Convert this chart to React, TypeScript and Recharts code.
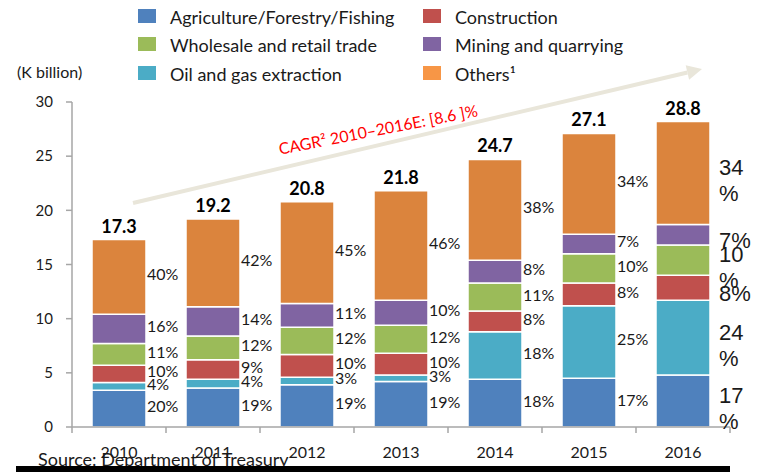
import React from 'react';
import { BarChart, Bar, XAxis, YAxis, LabelList } from 'recharts';

// years + bar totals (labels shown above the stacks)
const years = ['2010', '2011', '2012', '2013', '2014', '2015', '2016'];
const totals = ['17.3', '19.2', '20.8', '21.8', '24.7', '27.1', '28.8'];

// segment values in K billion
const agriculture = [3.4, 3.6, 3.9, 4.2, 4.4, 4.5, 4.8];
const oilGas = [0.7, 0.8, 0.7, 0.6, 4.4, 6.7, 6.9];
const construction = [1.6, 1.8, 2.1, 2.0, 1.9, 2.1, 2.3];
const wholesale = [2.0, 2.2, 2.5, 2.6, 2.6, 2.7, 2.8];
const mining = [2.7, 2.7, 2.2, 2.3, 2.1, 1.8, 1.9];
const others = [6.9, 8.1, 9.4, 10.1, 9.3, 9.3, 9.5];

// share labels printed to the right of each segment
const agriculturePct = ['20%', '19%', '19%', '19%', '18%', '17%', '17%'];
const oilGasPct = ['4%', '4%', '3%', '3%', '18%', '25%', '24%'];
const constructionPct = ['10%', '9%', '10%', '10%', '8%', '8%', '8%'];
const wholesalePct = ['11%', '12%', '12%', '12%', '11%', '10%', '10%'];
const miningPct = ['16%', '14%', '11%', '10%', '8%', '7%', '7%'];
const othersPct = ['40%', '42%', '45%', '46%', '38%', '34%', '34%'];

const yTicks = [0, 5, 10, 15, 20, 25, 30];

const FONT = 'Lato, "Open Sans", sans-serif';
const TEXT = '#1a1a1a';

const series = [
  { key: 'agriculture', name: 'Agriculture/Forestry/Fishing', fill: '#4F81BD', legend: '#4F81BD', pct: agriculturePct },
  { key: 'oilGas', name: 'Oil and gas extraction', fill: '#4BACC6', legend: '#4BACC6', pct: oilGasPct },
  { key: 'construction', name: 'Construction', fill: '#C0504D', legend: '#C0504D', pct: constructionPct },
  { key: 'wholesale', name: 'Wholesale and retail trade', fill: '#9BBB59', legend: '#9BBB59', pct: wholesalePct },
  { key: 'mining', name: 'Mining and quarrying', fill: '#8064A2', legend: '#8064A2', pct: miningPct },
  { key: 'others', name: 'Others\u00B9', fill: '#DB843D', legend: '#F79646', pct: othersPct },
];

const data = years.map((year, i) => ({
  year,
  agriculture: agriculture[i],
  oilGas: oilGas[i],
  construction: construction[i],
  wholesale: wholesale[i],
  mining: mining[i],
  others: others[i],
}));

// legend layout: two columns, three rows
const legendOrder = [
  ['agriculture', 'construction'],
  ['wholesale', 'mining'],
  ['oilGas', 'others'],
];

const makePctLabel = (pcts: string[]) => (props: any) => {
  const { x, y, width, height, index } = props;
  const text = pcts[index];
  const cy = Number(y) + Number(height) / 2;
  if (index === years.length - 1) {
    // last column uses a bigger font and wraps when it does not fit
    const lx = Number(x) + Number(width) + 9;
    const style = { fontFamily: '"Liberation Sans", Arial, sans-serif', fontSize: 22, fill: TEXT };
    if (text.length > 2) {
      return (
        <text x={lx} y={cy - 6} dominantBaseline="central" {...style}>
          <tspan x={lx}>{text.slice(0, -1)}</tspan>
          <tspan x={lx} dy={26}>%</tspan>
        </text>
      );
    }
    return (
      <text x={lx} y={cy + 6} dominantBaseline="central" {...style}>
        {text}
      </text>
    );
  }
  return (
    <text x={Number(x) + Number(width) + 1} y={cy - 3} dominantBaseline="central"
      fontFamily={FONT} fontSize={16} fill={TEXT}>
      {text}
    </text>
  );
};

const TotalLabel = (props: any) => {
  const { x, y, width, index } = props;
  return (
    <text x={Number(x) + Number(width) / 2} y={Number(y) - 14} textAnchor="middle" dominantBaseline="central"
      fontFamily={FONT} fontSize={18} fontWeight={700} fill="#000">
      {totals[index]}
    </text>
  );
};

const BAND = 94;

const YearTick = (props: any) => {
  const { x, y, payload, index } = props;
  const left = x - BAND / 2;
  return (
    <g>
      <line x1={left} x2={left} y1={y} y2={y + 6} stroke="#A6A6A6" strokeWidth={1.5} />
      {index === years.length - 1 && (
        <line x1={x + BAND / 2} x2={x + BAND / 2} y1={y} y2={y + 6} stroke="#A6A6A6" strokeWidth={1.5} />
      )}
      <text x={x} y={y + 24} textAnchor="middle" dominantBaseline="central"
        fontFamily={FONT} fontSize={16} fill={TEXT}>
        {payload.value}
      </text>
    </g>
  );
};

// growth arrow overlay
const arrowStart = { x: 133, y: 203 };
const arrowTip = { x: 702, y: 69 };

const Arrow = () => {
  const dx = arrowTip.x - arrowStart.x;
  const dy = arrowTip.y - arrowStart.y;
  const len = Math.sqrt(dx * dx + dy * dy);
  const ux = dx / len;
  const uy = dy / len;
  const bx = arrowTip.x - ux * 15;
  const by = arrowTip.y - uy * 15;
  const p1 = `${bx - uy * 7.5},${by + ux * 7.5}`;
  const p2 = `${bx + uy * 7.5},${by - ux * 7.5}`;
  return (
    <svg width={758} height={472} style={{ position: 'absolute', left: 0, top: 0, pointerEvents: 'none' }}>
      <line x1={arrowStart.x} y1={arrowStart.y} x2={bx} y2={by} stroke="#E9E6DA" strokeWidth={4} />
      <polygon points={`${arrowTip.x},${arrowTip.y} ${p1} ${p2}`} fill="#E9E6DA" />
      <text x={378} y={129} textAnchor="middle" dominantBaseline="central" transform="rotate(-11 378 129)"
        fontFamily={FONT} fontSize={16} fill="#FF0000">
        CAGR² 2010–2016E: [8.6 ]%
      </text>
    </svg>
  );
};

const App: React.FC = () => {
  const byKey: Record<string, typeof series[number]> = {};
  series.forEach(s => { byKey[s.key] = s; });

  return (
    <div style={{ position: 'absolute', left: 0, top: 0, width: 758, height: 472, background: '#fff', overflow: 'hidden' }}>
      {/* legend */}
      {legendOrder.map((row, r) => (
        row.map((key, c) => {
          const s = byKey[key];
          const top = [9, 37, 66][r];
          return (
            <div key={key} style={{ position: 'absolute', left: c === 0 ? 138 : 423, top }}>
              <div style={{ position: 'absolute', left: 0, top: 0, width: 18, height: 14, background: s.legend }} />
              <div style={{
                position: 'absolute', left: 32, top: -3, whiteSpace: 'nowrap',
                fontFamily: FONT, fontSize: 18, color: TEXT, lineHeight: '22px',
              }}>
                {s.name}
              </div>
            </div>
          );
        })
      ))}

      <div style={{ position: 'absolute', left: 17, top: 61, fontFamily: FONT, fontSize: 16, color: TEXT, lineHeight: '22px' }}>
        (K billion)
      </div>

      <div style={{ position: 'absolute', left: 0, top: 0 }}>
        <BarChart width={758} height={472} data={data}
          margin={{ top: 102, right: 28, bottom: 15, left: 12 }}>
          <XAxis dataKey="year" height={30} tickLine={false} tickSize={0} tickMargin={0}
            axisLine={{ stroke: '#A6A6A6', strokeWidth: 1.5 }} tick={<YearTick />} interval={0} />
          <YAxis width={60} domain={[0, 30]} ticks={yTicks} tickSize={6} tickMargin={13}
            axisLine={{ stroke: '#A6A6A6', strokeWidth: 1.5 }} tickLine={{ stroke: '#A6A6A6', strokeWidth: 1.5 }}
            tick={{ fontFamily: FONT, fontSize: 15, fill: TEXT }} />
          {series.map(s => (
            <Bar key={s.key} dataKey={s.key} name={s.name} stackId="a" fill={s.fill} barSize={54}
              stroke="#fff" strokeWidth={1.5} isAnimationActive={false}>
              <LabelList dataKey={s.key} content={makePctLabel(s.pct)} />
              {s.key === 'others' && <LabelList dataKey={s.key} content={<TotalLabel />} />}
            </Bar>
          ))}
        </BarChart>
      </div>

      <Arrow />

      {/* footnote, partly hidden under the black band */}
      <div style={{ position: 'absolute', left: 38, top: 448, fontFamily: FONT, fontSize: 18, color: TEXT, lineHeight: '22px', whiteSpace: 'nowrap' }}>
        Source: Department of Treasury
      </div>
      <div style={{ position: 'absolute', left: 16, top: 466, width: 714, height: 6, background: '#000' }} />
    </div>
  );
};

export default App;
